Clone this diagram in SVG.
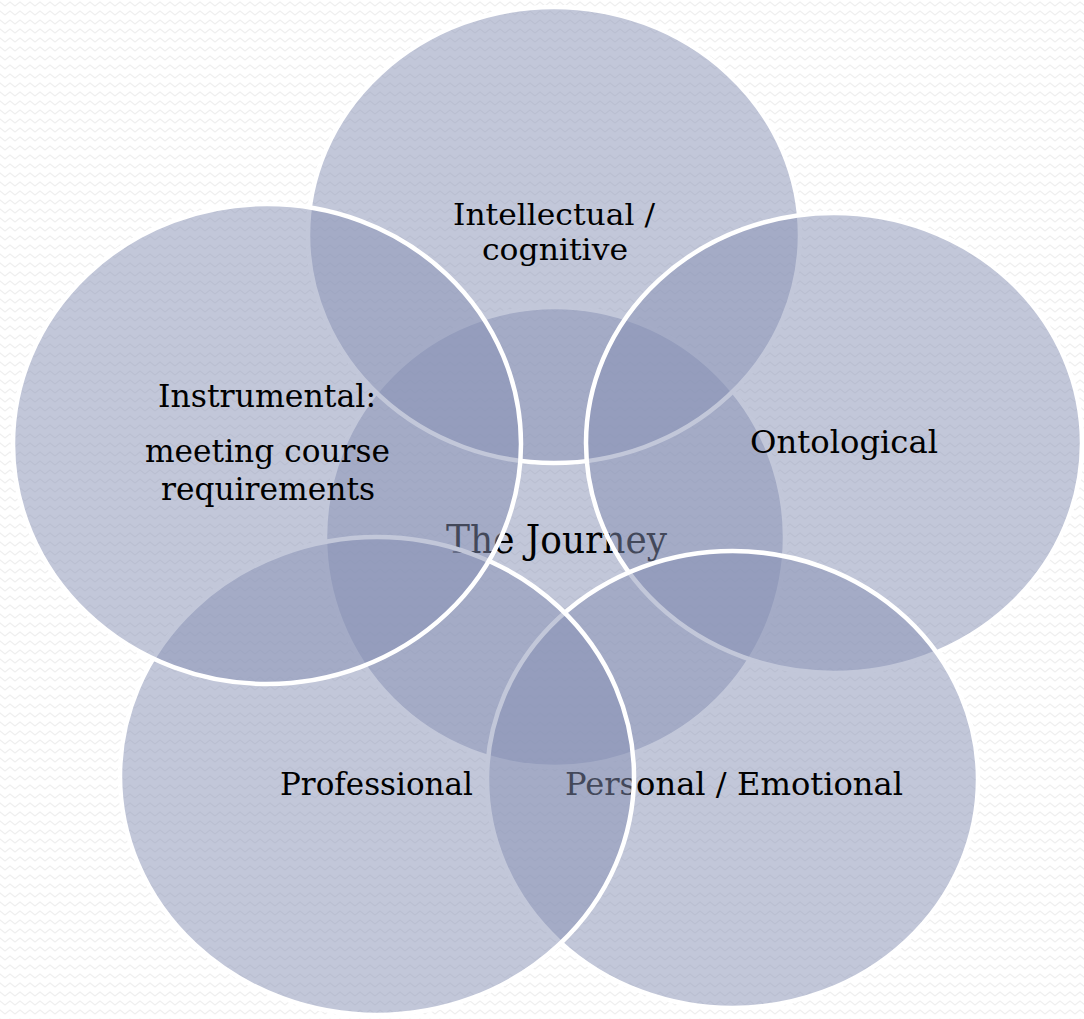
<svg xmlns="http://www.w3.org/2000/svg" width="1084" height="1019" viewBox="0 0 1084 1019">
<defs>
<pattern id="zig" width="10" height="9" patternUnits="userSpaceOnUse">
<path d="M-5,6 L0,2 L5,6 L10,2 L15,6" fill="none" stroke="#efefef" stroke-width="1.3"/>
</pattern>
<style>
.c{fill:#8690B4;fill-opacity:0.5;stroke:#ffffff;stroke-width:4.5}
.t{font-family:"DejaVu Serif","Liberation Serif",serif;font-size:32px;fill:#000;text-anchor:middle}
.ts{font-family:"DejaVu Serif","Liberation Serif",serif;font-size:29px;fill:#000;text-anchor:middle}
.tj{font-family:"DejaVu Serif","Liberation Serif",serif;font-size:39px;fill:#000;text-anchor:middle}
</style>
</defs>
<rect width="1084" height="1019" fill="#ffffff"/>
<rect width="1084" height="1019" fill="url(#zig)"/>
<g id="center">
<ellipse class="c" cx="555" cy="537" rx="230" ry="230"/>
<text class="tj" x="556.5" y="553" textLength="221" lengthAdjust="spacingAndGlyphs">The Journey</text>
</g>
<g id="intellectual">
<ellipse class="c" cx="554" cy="235" rx="246" ry="228"/>
<text class="ts" x="554" y="225" textLength="202" lengthAdjust="spacingAndGlyphs">Intellectual /</text>
<text class="ts" x="555" y="260" textLength="146" lengthAdjust="spacingAndGlyphs">cognitive</text>
</g>
<g id="ontological">
<ellipse class="c" cx="834" cy="443" rx="248" ry="230"/>
<text class="t" x="844" y="453" textLength="188" lengthAdjust="spacingAndGlyphs">Ontological</text>
</g>
<g id="personal">
<ellipse class="c" cx="732.5" cy="779.5" rx="245.5" ry="228.5"/>
<text class="t" x="734" y="795" textLength="338" lengthAdjust="spacingAndGlyphs">Personal / Emotional</text>
</g>
<g id="professional">
<ellipse class="c" cx="377" cy="776" rx="257" ry="239"/>
<text class="t" x="376.5" y="795" textLength="193" lengthAdjust="spacingAndGlyphs">Professional</text>
</g>
<g id="instrumental">
<ellipse class="c" cx="267" cy="444" rx="254" ry="240"/>
<text class="t" x="267" y="407" textLength="218" lengthAdjust="spacingAndGlyphs">Instrumental:</text>
<text class="t" x="267.5" y="462" textLength="245" lengthAdjust="spacingAndGlyphs">meeting course</text>
<text class="t" x="268" y="500" textLength="214" lengthAdjust="spacingAndGlyphs">requirements</text>
</g>
<g id="connectors"></g>
</svg>
